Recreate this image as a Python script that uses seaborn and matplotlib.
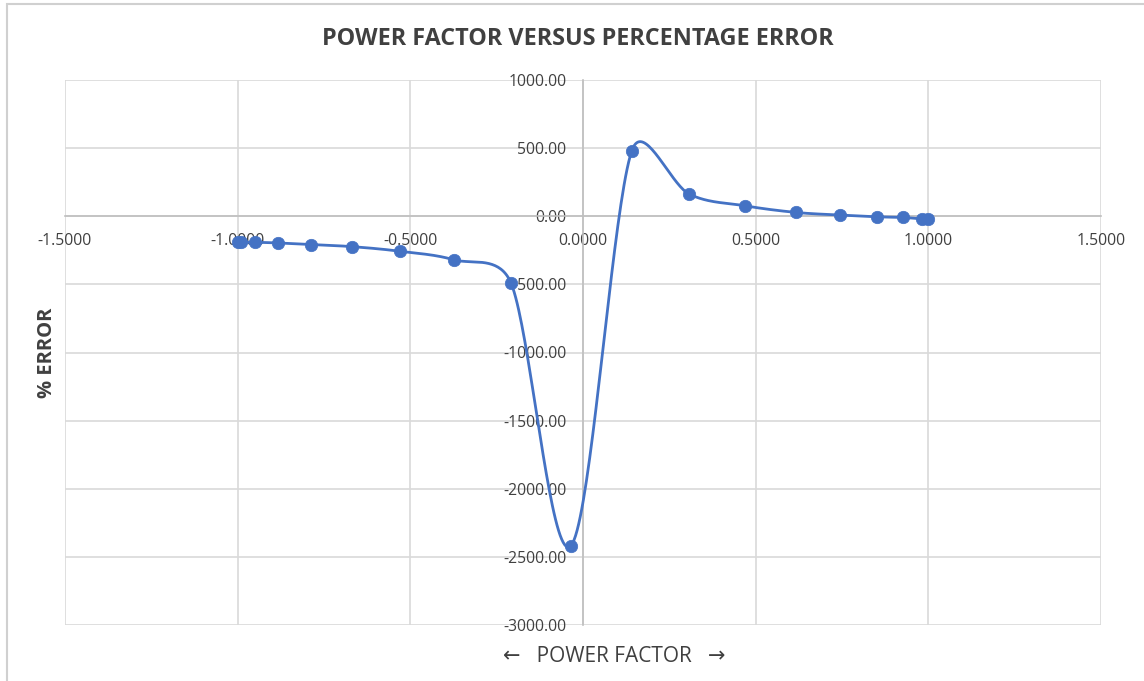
import numpy as np
import matplotlib
matplotlib.use("Agg")
import matplotlib.pyplot as plt
import seaborn as sns
from matplotlib.patches import Rectangle

# ---- data ----
power_factor = [-1.000, -0.990, -0.951, -0.883, -0.788, -0.669, -0.530, -0.375,
                -0.208, -0.035, 0.141, 0.308, 0.469, 0.617, 0.744, 0.850,
                0.928, 0.981, 0.999]
pct_error = [-191, -191, -191, -196, -208, -223, -257, -319,
             -493, -2418, 478, 162, 77, 28, 9, -4,
             -9, -20, -20]

x_ticks = [-1.5, -1.0, -0.5, 0.0, 0.5, 1.0, 1.5]
y_ticks = [1000, 500, 0, -500, -1000, -1500, -2000, -2500, -3000]
x_tick_labels = ["-1.5000", "-1.0000", "-0.5000", "0.0000", "0.5000", "1.0000", "1.5000"]
y_tick_labels = ["1000.00", "500.00", "0.00", "-500.00", "-1000.00", "-1500.00",
                 "-2000.00", "-2500.00", "-3000.00"]

title = "POWER FACTOR VERSUS PERCENTAGE ERROR"
x_title = "\u2190   POWER FACTOR   \u2192"
y_title = "% ERROR"

sns.set_theme(style="white")
plt.rcParams["font.family"] = ["Open Sans", "DejaVu Sans"]

W, H = 1144, 681
fig = plt.figure(figsize=(W / 100, H / 100), dpi=100)
fig.patch.set_facecolor("white")

# outer chart border (top/left visible)
fig.patches.append(Rectangle((7 / W, -0.1), 1.2, (H - 4) / H + 0.1, transform=fig.transFigure,
                             fill=False, edgecolor="#d0d0d0", linewidth=1.5, zorder=0))

left, right, top, bottom = 65, 1101, 80, 625
ax = fig.add_axes([left / W, 1 - bottom / H, (right - left) / W, (bottom - top) / H])
ax.set_xlim(-1.5, 1.5)
ax.set_ylim(-3000, 1000)

GRID = "#d9d9d9"
TXT = "#404040"
BLUE = "#4472C4"

ax.set_xticks(x_ticks)
ax.set_yticks(y_ticks)
ax.set_xticklabels(x_tick_labels)
ax.set_yticklabels(y_tick_labels)
ax.grid(True, color=GRID, linewidth=1.2)
for s in ["top", "right"]:
    ax.spines[s].set_visible(False)
ax.spines["left"].set_position(("data", 0))
ax.spines["bottom"].set_position(("data", 0))
ax.spines["left"].set_color("#bfbfbf")
ax.spines["bottom"].set_color("#bfbfbf")
ax.spines["left"].set_linewidth(1.2)
ax.spines["bottom"].set_linewidth(1.2)
ax.tick_params(axis="both", length=0, labelsize=11.3, labelcolor=TXT)
ax.tick_params(axis="x", pad=12)
ax.tick_params(axis="y", pad=12)

# ---- Excel-style smoothed line (Bezier through the points, computed in pixel space) ----
pts = ax.transData.transform(np.column_stack([power_factor, pct_error]))
n = len(pts)
curve = [pts[0]]
for i in range(n - 1):
    p0 = pts[i - 1] if i > 0 else pts[i]
    p1 = pts[i]
    p2 = pts[i + 1]
    p3 = pts[i + 2] if i + 2 < n else pts[i + 1]
    d12 = np.hypot(*(p2 - p1))
    d02 = np.hypot(*(p2 - p0))
    d13 = np.hypot(*(p3 - p1))
    f1 = 1 / 6 if (d02 / 6 < d12 / 2 or d02 == 0) else (d12 / 2) / d02
    f2 = 1 / 6 if (d13 / 6 < d12 / 2 or d13 == 0) else (d12 / 2) / d13
    c1 = p1 + (p2 - p0) * f1
    c2 = p2 - (p3 - p1) * f2
    t = np.linspace(0, 1, 40)[1:, None]
    seg = ((1 - t) ** 3) * p1 + 3 * ((1 - t) ** 2) * t * c1 + 3 * (1 - t) * t ** 2 * c2 + t ** 3 * p2
    curve.extend(seg)
curve = ax.transData.inverted().transform(np.array(curve))

sns.lineplot(x=curve[:, 0], y=curve[:, 1], sort=False, estimator=None, ax=ax,
             color=BLUE, linewidth=2.0, zorder=4)
sns.scatterplot(x=power_factor, y=pct_error, ax=ax, color=BLUE, s=80,
                edgecolor=BLUE, linewidth=0.5, zorder=5)

fig.text(578 / W, 1 - 39 / H, title, ha="center", va="center", fontsize=16.8,
         fontweight="bold", color=TXT)
fig.text(614 / W, 1 - 657 / H, x_title, ha="center", va="center", fontsize=15,
         color=TXT, family=["Open Sans", "DejaVu Sans"])
fig.text(47 / W, 1 - 353 / H, y_title, ha="center", va="center", fontsize=14.5,
         fontweight="bold", color=TXT, rotation=90)

fig.savefig("out.png", dpi=100)
